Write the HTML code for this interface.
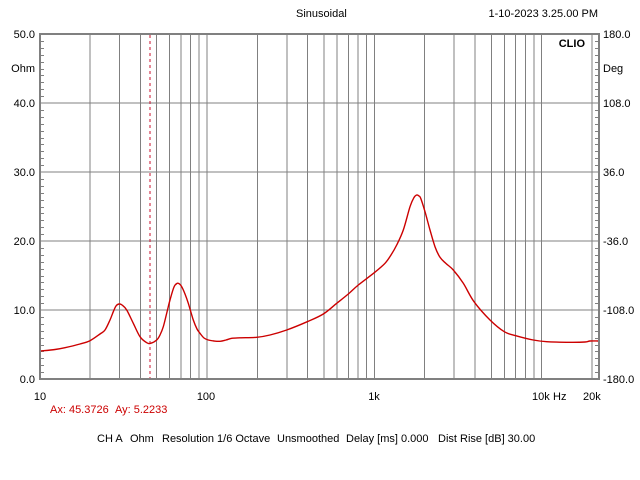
<!DOCTYPE html>
<html>
<head>
<meta charset="utf-8">
<style>
html,body{margin:0;padding:0;background:#fff;}
svg{display:block;}
text{font-family:"Liberation Sans",Arial,sans-serif;font-size:11px;fill:#000;}
</style>
</head>
<body>
<svg width="640" height="480" viewBox="0 0 640 480" xmlns="http://www.w3.org/2000/svg">
<rect x="0" y="0" width="640" height="480" fill="#fff"/>
<!-- vertical grid -->
<g stroke="#808080" stroke-width="1" shape-rendering="crispEdges">
<line x1="89.9" y1="34" x2="89.9" y2="379"/>
<line x1="119.4" y1="34" x2="119.4" y2="379"/>
<line x1="140.3" y1="34" x2="140.3" y2="379"/>
<line x1="156.5" y1="34" x2="156.5" y2="379"/>
<line x1="169.7" y1="34" x2="169.7" y2="379"/>
<line x1="180.9" y1="34" x2="180.9" y2="379"/>
<line x1="190.6" y1="34" x2="190.6" y2="379"/>
<line x1="199.2" y1="34" x2="199.2" y2="379"/>
<line x1="206.9" y1="34" x2="206.9" y2="379"/>
<line x1="257.3" y1="34" x2="257.3" y2="379"/>
<line x1="286.8" y1="34" x2="286.8" y2="379"/>
<line x1="307.7" y1="34" x2="307.7" y2="379"/>
<line x1="323.9" y1="34" x2="323.9" y2="379"/>
<line x1="337.1" y1="34" x2="337.1" y2="379"/>
<line x1="348.3" y1="34" x2="348.3" y2="379"/>
<line x1="358.0" y1="34" x2="358.0" y2="379"/>
<line x1="366.6" y1="34" x2="366.6" y2="379"/>
<line x1="374.3" y1="34" x2="374.3" y2="379"/>
<line x1="424.7" y1="34" x2="424.7" y2="379"/>
<line x1="454.2" y1="34" x2="454.2" y2="379"/>
<line x1="475.1" y1="34" x2="475.1" y2="379"/>
<line x1="491.3" y1="34" x2="491.3" y2="379"/>
<line x1="504.5" y1="34" x2="504.5" y2="379"/>
<line x1="515.7" y1="34" x2="515.7" y2="379"/>
<line x1="525.4" y1="34" x2="525.4" y2="379"/>
<line x1="534.0" y1="34" x2="534.0" y2="379"/>
<line x1="541.7" y1="34" x2="541.7" y2="379"/>
<line x1="592.1" y1="34" x2="592.1" y2="379"/>
<!-- horizontal grid -->
<line x1="40" y1="103" x2="599" y2="103"/>
<line x1="40" y1="172" x2="599" y2="172"/>
<line x1="40" y1="241" x2="599" y2="241"/>
<line x1="40" y1="310" x2="599" y2="310"/>
</g>
<!-- minor ticks -->
<g stroke="#808080" stroke-width="1" id="ticks" shape-rendering="crispEdges"></g>
<!-- border -->
<rect x="40" y="34" width="559" height="345" fill="none" stroke="#808080" stroke-width="2" shape-rendering="crispEdges"/>
<!-- cursor -->
<line x1="150" y1="35" x2="150" y2="378" stroke="#c8102e" stroke-width="1" stroke-dasharray="3,3" shape-rendering="crispEdges"/>
<!-- curve -->
<path id="curve" fill="none" stroke="#cc0000" stroke-width="1.4" stroke-linejoin="round" d=""/>
<!-- labels -->
<text x="296" y="17">Sinusoidal</text>
<text x="598" y="17" text-anchor="end">1-10-2023 3.25.00 PM</text>
<text x="585" y="47" text-anchor="end" style="font-weight:bold">CLIO</text>
<g text-anchor="end">
<text x="35" y="38">50.0</text>
<text x="35" y="72">Ohm</text>
<text x="35" y="107">40.0</text>
<text x="35" y="176">30.0</text>
<text x="35" y="245">20.0</text>
<text x="35" y="314">10.0</text>
<text x="35" y="383">0.0</text>
</g>
<g>
<text x="603" y="38">180.0</text>
<text x="603" y="72">Deg</text>
<text x="603" y="107">108.0</text>
<text x="603" y="176">36.0</text>
<text x="603" y="245">-36.0</text>
<text x="603" y="314">-108.0</text>
<text x="603" y="383">-180.0</text>
</g>
<text x="40" y="400" text-anchor="middle">10</text>
<text x="206" y="400" text-anchor="middle">100</text>
<text x="374" y="400" text-anchor="middle">1k</text>
<text x="532" y="400">10k</text>
<text x="553" y="400">Hz</text>
<text x="583" y="400">20k</text>
<text x="50" y="413" style="fill:#cc0000">Ax: 45.3726</text>
<text x="115" y="413" style="fill:#cc0000">Ay: 5.2233</text>
<text x="97" y="442">CH A</text>
<text x="130" y="442">Ohm</text>
<text x="162" y="442">Resolution 1/6 Octave</text>
<text x="277" y="442">Unsmoothed</text>
<text x="346" y="442">Delay [ms] 0.000</text>
<text x="438" y="442">Dist Rise [dB] 30.00</text>
</svg>
<script>
(function(){
var ns="http://www.w3.org/2000/svg";
var g=document.getElementById("ticks");
for(var k=1;k<50;k++){
 if(k%10===0) continue;
 var y=Math.round(34+k*6.9)+0.5;
 var l=document.createElementNS(ns,"line");
 l.setAttribute("x1",41);l.setAttribute("x2",44);l.setAttribute("y1",y);l.setAttribute("y2",y);
 g.appendChild(l);
 var r=document.createElementNS(ns,"line");
 r.setAttribute("x1",595);r.setAttribute("x2",598);r.setAttribute("y1",y);r.setAttribute("y2",y);
 g.appendChild(r);
}
var p=[[41,351],[55,349.5],[65,347.7],[80,344],[90,340.7],[100,334],[105,330],[110,320],[113.3,311.7],[116,306],[119,304],[122,305],[126.7,310],[133.3,323.3],[140,336.7],[146.7,342.7],[150.7,343.3],[156.7,340],[160,335],[163.3,326.7],[167,312],[170,300],[174,287],[177.3,283.3],[179.5,284],[181.7,286.7],[185,294],[188.3,303.3],[193.3,320],[197,329],[200,333.3],[204,338],[208.3,340],[214,341],[220,341.3],[226,340],[231.7,338.3],[240,337.8],[256.7,337.3],[270,335],[286.7,330],[307.3,321.7],[323.3,314],[336.7,303.3],[348.3,294],[358.3,285],[374.3,272.7],[385,263.3],[391,255],[396.7,245],[403.3,230],[410,206.7],[414,197.5],[416.7,195],[419,196],[420.7,198.3],[425,211.7],[430,230],[435,246.7],[440,257.3],[446,263.5],[453.3,270],[463.3,283.3],[474,301.7],[490,320],[504.3,331.7],[515.7,335.7],[533.3,340],[546.7,341.7],[570,342.3],[585,342],[590,341],[598,341]];
var d="M"+p[0][0]+","+p[0][1];
for(var i=0;i<p.length-1;i++){
 var p0=p[i>0?i-1:0],p1=p[i],p2=p[i+1],p3=p[i+2<p.length?i+2:i+1];
 var c1x=p1[0]+(p2[0]-p0[0])/6,c1y=p1[1]+(p2[1]-p0[1])/6;
 var c2x=p2[0]-(p3[0]-p1[0])/6,c2y=p2[1]-(p3[1]-p1[1])/6;
 d+=" C"+c1x.toFixed(2)+","+c1y.toFixed(2)+" "+c2x.toFixed(2)+","+c2y.toFixed(2)+" "+p2[0]+","+p2[1];
}
document.getElementById("curve").setAttribute("d",d);
})();
</script>
</body>
</html>
